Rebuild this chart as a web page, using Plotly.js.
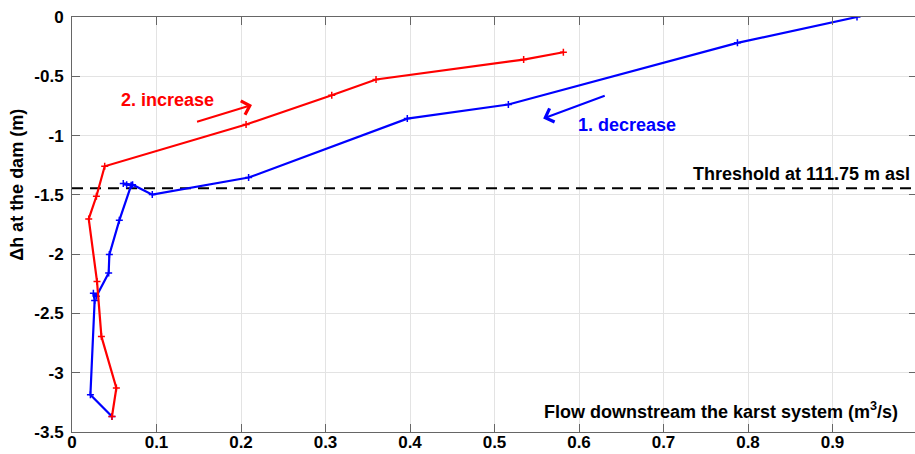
<!DOCTYPE html>
<html>
<head>
<meta charset="utf-8">
<script src="https://cdn.plot.ly/plotly-3.0.1.min.js"></script>
<style>
html, body { margin: 0; padding: 0; overflow: hidden; background: #fff; }
#chart { width: 921px; height: 454px; }
</style>
</head>
<body>
<div id="chart"></div>
<script>
// Series 1: decrease (blue)
const decreaseX = [0.929, 0.7875, 0.5164, 0.3968, 0.209, 0.095, 0.0717, 0.0607, 0.0647, 0.0700, 0.056, 0.0442, 0.0434, 0.0288, 0.0253, 0.0268, 0.0218, 0.0473];
const decreaseY = [0, -0.218, -0.738, -0.857, -1.354, -1.498, -1.414, -1.405, -1.414, -1.42, -1.715, -2.004, -2.159, -2.356, -2.33, -2.39, -3.186, -3.369];
// Series 2: increase (red)
const increaseX = [0.0473, 0.0525, 0.0348, 0.0296, 0.0198, 0.0289, 0.0387, 0.206, 0.3074, 0.3598, 0.5345, 0.5815];
const increaseY = [-3.369, -3.129, -2.694, -2.23, -1.703, -1.512, -1.259, -0.907, -0.660, -0.527, -0.359, -0.297];
// Threshold line
const thresholdX = [0, 1];
const thresholdY = [-1.445, -1.445];

const xTicks = [0, 0.1, 0.2, 0.3, 0.4, 0.5, 0.6, 0.7, 0.8, 0.9, 1];
const xTickText = ['0', '0.1', '0.2', '0.3', '0.4', '0.5', '0.6', '0.7', '0.8', '0.9', '1'];
const yTicks = [0, -0.5, -1, -1.5, -2, -2.5, -3, -3.5];
const yTickText = ['0', '-0.5', '-1', '-1.5', '-2', '-2.5', '-3', '-3.5'];

const FONT = 'Liberation Sans, Arial, Helvetica, sans-serif';

const traces = [
  {
    x: thresholdX, y: thresholdY, mode: 'lines', type: 'scatter',
    line: { color: '#000000', width: 2, dash: '11px,7px' },
    hoverinfo: 'skip', showlegend: false
  },
  {
    x: decreaseX, y: decreaseY, mode: 'lines+markers', type: 'scatter',
    line: { color: '#0000ff', width: 2.2 },
    marker: { symbol: 'cross-thin', size: 5, color: '#0000ff', line: { color: '#0000ff', width: 1.5 } },
    showlegend: false
  },
  {
    x: increaseX, y: increaseY, mode: 'lines+markers', type: 'scatter',
    line: { color: '#ff0000', width: 2.2 },
    marker: { symbol: 'cross-thin', size: 5, color: '#ff0000', line: { color: '#ff0000', width: 1.5 } },
    showlegend: false
  }
];

const axisCommon = {
  showgrid: true, gridcolor: '#e3e3e3', gridwidth: 1,
  zeroline: false, showline: true, linecolor: '#666666', linewidth: 1,
  ticks: 'inside', ticklen: 8, tickcolor: '#666666', tickwidth: 1,
  mirror: 'ticks',
  tickfont: { family: FONT, size: 17, color: '#000000', weight: 'bold' }
};

const layout = {
  width: 921, height: 454,
  margin: { l: 72, r: 4, t: 17, b: 22 },
  paper_bgcolor: '#ffffff', plot_bgcolor: '#ffffff',
  showlegend: false,
  xaxis: Object.assign({}, axisCommon, {
    range: [0, 1], tickmode: 'array', tickvals: xTicks, ticktext: xTickText,
    ticklabelstandoff: -5
  }),
  yaxis: Object.assign({}, axisCommon, {
    range: [-3.5, 0], tickmode: 'array', tickvals: yTicks, ticktext: yTickText,
    ticklabelstandoff: 4
  }),
  annotations: [
    { xref: 'paper', yref: 'paper', x: -0.0654, y: 0.595, xanchor: 'center', yanchor: 'middle',
      text: 'Δh at the dam (m)', textangle: -90, showarrow: false,
      font: { family: FONT, size: 18, color: '#000000', weight: 'bold' } },
    { xref: 'paper', yref: 'paper', x: 0.9793, y: 0.053, xanchor: 'right', yanchor: 'middle',
      text: 'Flow downstream the karst system (m<sup>3</sup>/s)', showarrow: false,
      font: { family: FONT, size: 18, color: '#000000', weight: 'bold' } },
    { xref: 'paper', yref: 'paper', x: 0.9935, y: 0.6217, xanchor: 'right', yanchor: 'middle',
      text: 'Threshold at 111.75 m asl', showarrow: false,
      font: { family: FONT, size: 18, color: '#000000', weight: 'bold' } },
    { xref: 'x', yref: 'y', x: 0.1127, y: -0.696, xanchor: 'center', yanchor: 'middle',
      text: '2. increase', showarrow: false,
      font: { family: FONT, size: 18, color: '#ff0000', weight: 'bold' } },
    { xref: 'x', yref: 'y', x: 0.657, y: -0.907, xanchor: 'center', yanchor: 'middle',
      text: '1. decrease', showarrow: false,
      font: { family: FONT, size: 18, color: '#0000ff', weight: 'bold' } },
    { xref: 'x', yref: 'y', axref: 'x', ayref: 'y',
      x: 0.213, y: -0.742, ax: 0.1462, ay: -0.888,
      text: '', showarrow: true, arrowhead: 4, arrowsize: 1.4, arrowwidth: 2, arrowcolor: '#ff0000', standoff: 0, startstandoff: 0 },
    { xref: 'x', yref: 'y', axref: 'x', ayref: 'y',
      x: 0.5576, y: -0.856, ax: 0.6322, ay: -0.660,
      text: '', showarrow: true, arrowhead: 4, arrowsize: 1.4, arrowwidth: 2, arrowcolor: '#0000ff', standoff: 0, startstandoff: 0 }
  ]
};

Plotly.newPlot('chart', traces, layout, { displayModeBar: false, staticPlot: true });
</script>
</body>
</html>
